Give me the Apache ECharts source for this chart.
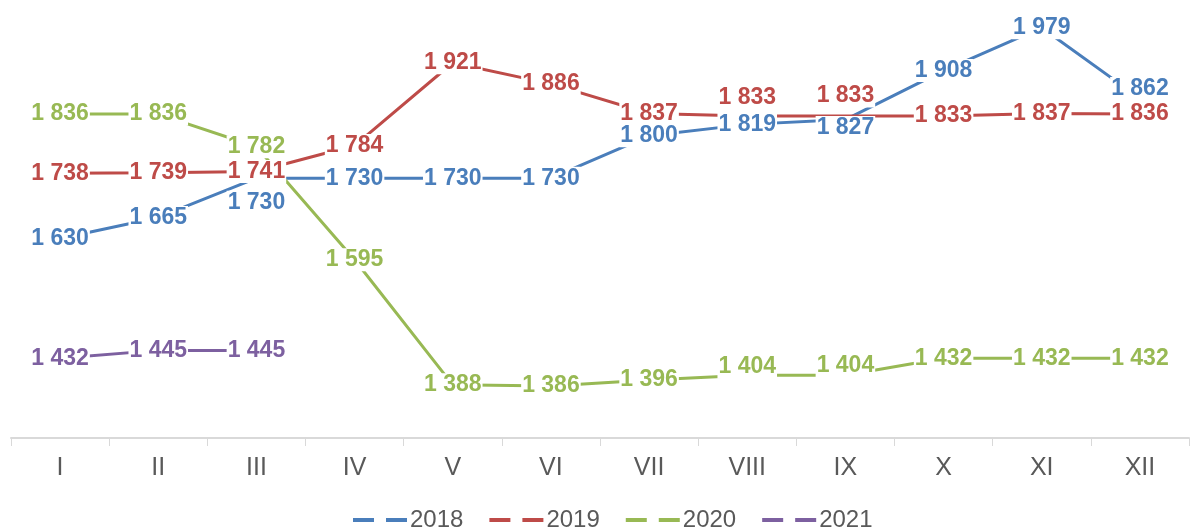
<!DOCTYPE html>
<html>
<head>
<meta charset="utf-8">
<script src="https://cdn.jsdelivr.net/npm/echarts@6/dist/echarts.min.js"></script>
<style>
html,body{margin:0;padding:0;background:#fff;}
#main{width:1191px;height:529px;}
</style>
</head>
<body>
<div id="main"></div>
<script>
var months = ['I','II','III','IV','V','VI','VII','VIII','IX','X','XI','XII'];
var years = ['2018','2019','2020','2021'];
var v2018 = [1630,1665,1730,1730,1730,1730,1800,1819,1827,1908,1979,1862];
var v2019 = [1738,1739,1741,1784,1921,1886,1837,1833,1833,1833,1837,1836];
var v2020 = [1836,1836,1782,1595,1388,1386,1396,1404,1404,1432,1432,1432];
var v2021 = [1432,1445,1445];
var colors = ['#4A7EBB','#BE4B48','#98B954','#7D60A0'];

// label nudges (index -> [dx, dy]) to keep labels apart like the original
var nudges = [
    {2:[0,24], 8:[0,8], 11:[0,-10]},
    {7:[0,-18], 8:[0,-20]},
    {7:[0,-8], 8:[0,-9]},
    {}
];

function fmt(p){
    return String(p.value).replace(/\B(?=(\d{3})+(?!\d))/g,' ');
}

var all = [v2018, v2019, v2020, v2021];
var series = all.map(function(vals, i){
    return {
        name: years[i],
        type: 'line',
        symbol: 'circle',
        symbolSize: 0,
        showSymbol: true,
        lineStyle: {width: 3, color: colors[i]},
        itemStyle: {color: colors[i]},
        label: {
            show: true,
            position: 'inside',
            formatter: fmt,
            color: colors[i],
            fontFamily: 'Liberation Sans, Arial, sans-serif',
            fontWeight: 'bold',
            fontSize: 23,
            backgroundColor: '#fff',
            padding: [0, 1]
        },
        data: vals.map(function(v, k){
            var o = nudges[i][k];
            return o ? {value: v, label: {offset: o}} : v;
        })
    };
});

var myChart = echarts.init(document.getElementById('main'));
var option = {
    animation: false,
    color: colors,
    grid: {left: 11, right: 2, top: 15, bottom: 91},
    legend: {
        data: years,
        bottom: -8,
        left: 348,
        itemWidth: 54,
        itemHeight: 4,
        itemGap: 26,
        icon: 'path://M0,0h21v4h-21z M33,0h21v4h-21z',
        textStyle: {color: '#595959', fontSize: 24, padding: [0, 0, 0, -2], fontFamily: 'Liberation Sans Narrow, Arial Narrow, Arial, sans-serif'}
    },
    xAxis: {
        type: 'category',
        data: months,
        boundaryGap: true,
        axisLine: {lineStyle: {color: '#d9d9d9', width: 2}},
        axisTick: {show: true, length: 8, lineStyle: {color: '#d9d9d9'}},
        axisLabel: {color: '#595959', fontSize: 25, margin: 18, fontFamily: 'Liberation Sans Narrow, Arial Narrow, Arial, sans-serif'}
    },
    yAxis: {
        type: 'value',
        min: 1300,
        max: 2000,
        show: false,
        splitLine: {show: false}
    },
    series: series
};
myChart.setOption(option);
</script>
</body>
</html>
